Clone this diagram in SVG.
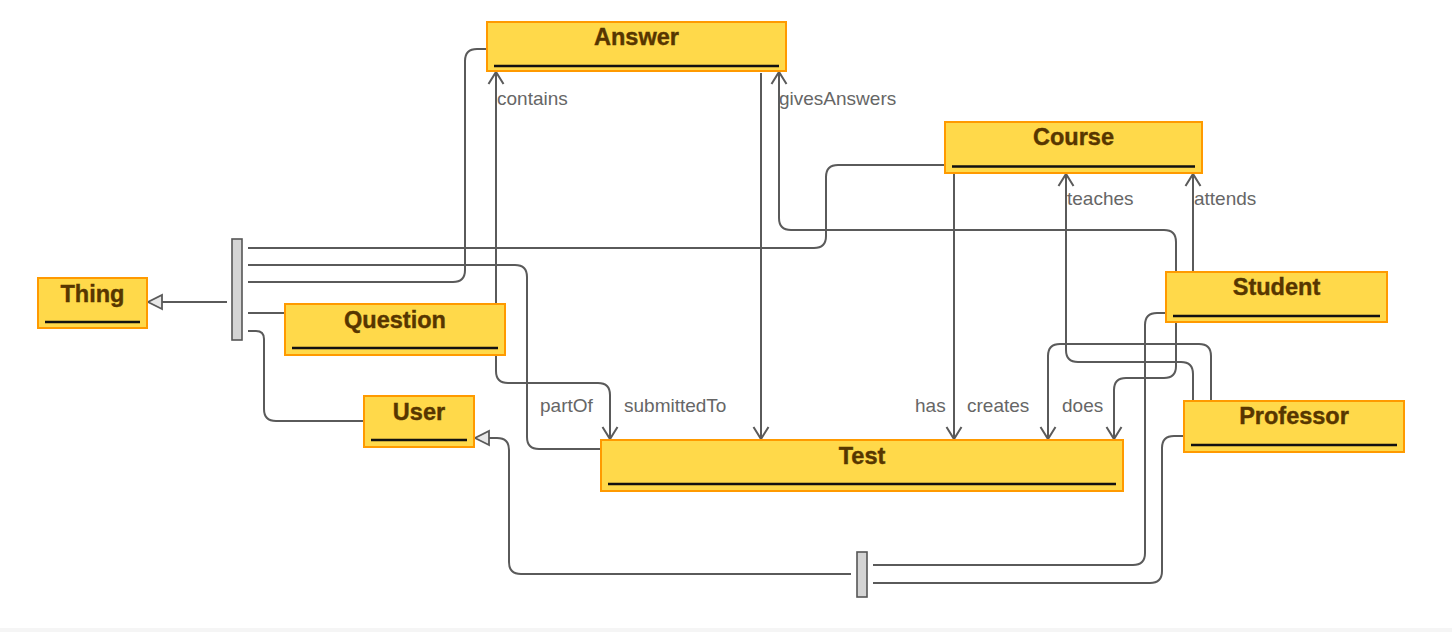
<svg xmlns="http://www.w3.org/2000/svg" width="1452" height="632" viewBox="0 0 1452 632">
<style>
.node{fill:#FFD94A;stroke:#FF9A00;stroke-width:2}
.ul{stroke:#111;stroke-width:2.5}
.name{font-family:"Liberation Sans",Arial,sans-serif;font-weight:bold;font-size:23.5px;fill:#573600;stroke:#573600;stroke-width:0.4;text-anchor:middle}
.bar{fill:#d4d4d4;stroke:#555;stroke-width:1.6}
.c{fill:none;stroke:#5a5a5a;stroke-width:2}
.lbl{font-family:"Liberation Sans",Arial,sans-serif;font-size:19px;fill:#666}
</style>
<defs>
<marker id="open" viewBox="-15 -9 17 18" refX="0" refY="0" markerWidth="17" markerHeight="18" markerUnits="userSpaceOnUse" orient="auto">
<path d="M-12,-7.5 L0,0 L-12,7.5" fill="none" stroke="#5a5a5a" stroke-width="2"/>
</marker>
<marker id="tri" viewBox="-16 -9 18 18" refX="0" refY="0" markerWidth="18" markerHeight="18" markerUnits="userSpaceOnUse" orient="auto">
<path d="M-14,-7 L0,0 L-14,7 Z" fill="#e8e8e8" stroke="#5a5a5a" stroke-width="1.8"/>
</marker>
</defs>
<rect x="0" y="0" width="1452" height="632" fill="#fff"/>
<rect x="0" y="628" width="1452" height="4" fill="#f5f5f5"/>

<g id="connectors">
<path class="c" d="M227,302 H148" marker-end="url(#tri)"/>
<path class="c" d="M248,248 H814 Q826,248 826,236 V177 Q826,165 838,165 H945"/>
<path class="c" d="M248,265 H515 Q527,265 527,277 V437 Q527,449 539,449 H601"/>
<path class="c" d="M248,282 H453 Q465,282 465,270 V61 Q465,49 477,49 H487"/>
<path class="c" d="M248,313 H285"/>
<path class="c" d="M248,331 H256 Q264,331 264,339 V409 Q264,421 276,421 H364"/>
<path class="c" d="M496,304 V72" marker-end="url(#open)"/>
<path class="c" d="M496,355 V371 Q496,383 508,383 H598 Q610,383 610,395 V439" marker-end="url(#open)"/>
<path class="c" d="M761,73 V439" marker-end="url(#open)"/>
<path class="c" d="M1176,272 V242 Q1176,230 1164,230 H791 Q779,230 779,218 V72" marker-end="url(#open)"/>
<path class="c" d="M1176,322 V366 Q1176,378 1164,378 H1126 Q1114,378 1114,390 V439" marker-end="url(#open)"/>
<path class="c" d="M1193,272 V174" marker-end="url(#open)"/>
<path class="c" d="M1193,401 V374 Q1193,362 1181,362 H1078 Q1066,362 1066,350 V174" marker-end="url(#open)"/>
<path class="c" d="M1211,401 V356 Q1211,344 1199,344 H1060 Q1048,344 1048,356 V439" marker-end="url(#open)"/>
<path class="c" d="M954,173 V439" marker-end="url(#open)"/>
<path class="c" d="M1166,313 H1157 Q1145,313 1145,325 V553 Q1145,565 1133,565 H873"/>
<path class="c" d="M1184,436 H1174 Q1162,436 1162,448 V571 Q1162,583 1150,583 H873"/>
<path class="c" d="M851,574 H521 Q509,574 509,562 V450 Q509,438 497,438 H475" marker-end="url(#tri)"/>
<text class="lbl" x="497" y="105">contains</text>
<text class="lbl" x="779" y="105">givesAnswers</text>
<text class="lbl" x="1067" y="205">teaches</text>
<text class="lbl" x="1194" y="205">attends</text>
<text class="lbl" x="540" y="412">partOf</text>
<text class="lbl" x="624" y="412">submittedTo</text>
<text class="lbl" x="915" y="412">has</text>
<text class="lbl" x="967" y="412">creates</text>
<text class="lbl" x="1062" y="412">does</text>
</g>

<g id="bar1"><rect class="bar" x="232" y="239" width="10" height="101"/></g>
<g id="bar2"><rect class="bar" x="857" y="552" width="10" height="45"/></g>

<g id="Thing">
<rect class="node" x="38" y="278" width="109" height="50"/>
<line class="ul" x1="45" y1="322" x2="140" y2="322"/>
<text class="name" x="92.5" y="302">Thing</text>
</g>
<g id="Question">
<rect class="node" x="285" y="304" width="220" height="51"/>
<line class="ul" x1="292" y1="348" x2="498" y2="348"/>
<text class="name" x="395" y="328">Question</text>
</g>
<g id="User">
<rect class="node" x="364" y="396" width="110" height="51"/>
<line class="ul" x1="371" y1="440" x2="467" y2="440"/>
<text class="name" x="419" y="420">User</text>
</g>
<g id="Answer">
<rect class="node" x="487" y="22" width="299" height="49"/>
<line class="ul" x1="494" y1="66" x2="779" y2="66"/>
<text class="name" x="636.5" y="45">Answer</text>
</g>
<g id="Course">
<rect class="node" x="945" y="122" width="257" height="51"/>
<line class="ul" x1="952" y1="166.5" x2="1195" y2="166.5"/>
<text class="name" x="1073.5" y="145">Course</text>
</g>
<g id="Student">
<rect class="node" x="1166" y="272" width="221" height="50"/>
<line class="ul" x1="1173" y1="316" x2="1380" y2="316"/>
<text class="name" x="1276.5" y="295">Student</text>
</g>
<g id="Professor">
<rect class="node" x="1184" y="401" width="220" height="51"/>
<line class="ul" x1="1191" y1="445" x2="1397" y2="445"/>
<text class="name" x="1294" y="424">Professor</text>
</g>
<g id="Test">
<rect class="node" x="601" y="440" width="522" height="51"/>
<line class="ul" x1="608" y1="484" x2="1116" y2="484"/>
<text class="name" x="862" y="464">Test</text>
</g>
</svg>
